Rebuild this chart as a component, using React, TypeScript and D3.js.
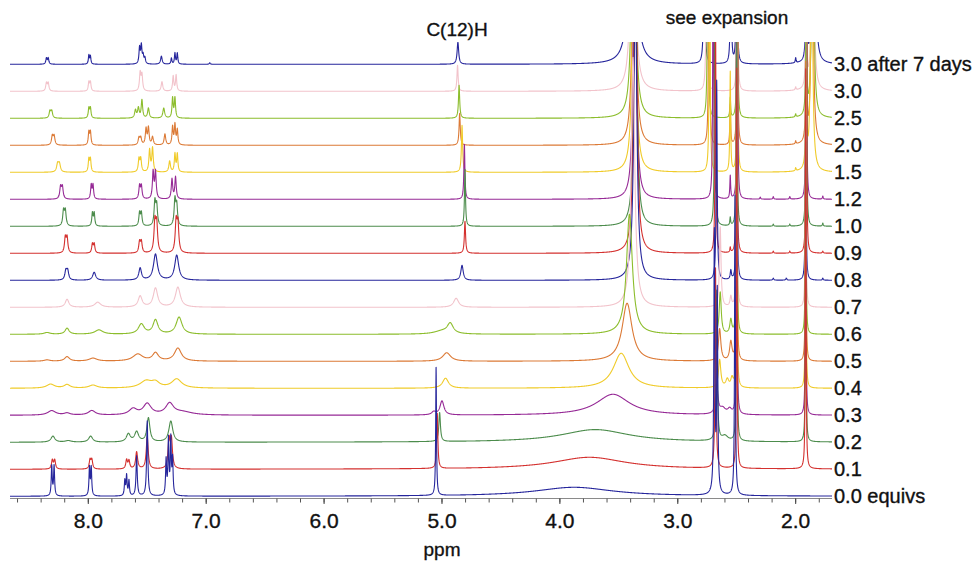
import React from "react";
import * as d3 from "d3";

const W = 979;
const H = 571;

const traceLabels = ["3.0 after 7 days", "3.0", "2.5", "2.0", "1.5", "1.2", "1.0", "0.9", "0.8", "0.7", "0.6", "0.5", "0.4", "0.3", "0.2", "0.1", "0.0 equivs"];
const traceColors = ["#26269c", "#f2c3cb", "#8cbd2c", "#dc7a36", "#f0cb2a", "#962a96", "#4c8c4c", "#d4312f", "#26269c", "#f2c3cb", "#8cbd2c", "#dc7a36", "#f0cb2a", "#962a96", "#4c8c4c", "#d4312f", "#26269c"];

const axisMajor = [8, 7, 6, 5, 4, 3, 2];
const axisMinor = [8.6, 8.4, 8.2, 8.0, 7.8, 7.6, 7.4, 7.2, 7.0, 6.8, 6.6, 6.4, 6.2, 6.0, 5.8, 5.6, 5.4, 5.2, 5.0, 4.8, 4.6, 4.4, 4.2, 4.0, 3.8, 3.6, 3.4, 3.2, 3.0, 2.8, 2.6, 2.4, 2.2, 2.0, 1.8];

// peaks: [ppm, height, half-width (ppm)]
const peaks0 = [[8.355,6,0.006],[8.34,6,0.006],[7.995,9,0.005],[7.982,8,0.005],[7.565,16,0.006],[7.55,18,0.006],[7.535,8,0.006],[7.52,6,0.006],[7.38,8,0.008],[7.295,6,0.005],[7.265,11,0.005],[7.245,11,0.005],[6.97,1.5,0.005],[4.865,22,0.008],[3.385,400,0.02],[2.775,300,0.004],[2.55,300,0.003],[2.5,400,0.003],[2.0,5,0.004],[1.91,300,0.003],[1.845,300,0.01]];
const peaks1 = [[8.355,8,0.007],[8.34,8,0.007],[7.995,9,0.006],[7.982,9,0.006],[7.56,18,0.007],[7.545,16,0.007],[7.375,9.5,0.008],[7.28,15,0.006],[7.255,16,0.006],[4.868,26,0.006],[3.38,400,0.015],[2.755,300,0.004],[2.495,400,0.003],[2.0,3,0.004],[1.91,300,0.003],[1.855,300,0.009]];
const peaks2 = [[8.325,7,0.008],[8.31,7,0.008],[7.995,10,0.006],[7.982,10,0.006],[7.6,8,0.008],[7.575,10,0.008],[7.545,18,0.007],[7.49,10,0.008],[7.36,10,0.009],[7.285,20,0.006],[7.265,20,0.006],[4.855,33,0.006],[3.375,400,0.014],[2.745,300,0.004],[2.555,20,0.004],[2.495,400,0.003],[2.0,3,0.004],[1.91,300,0.003],[1.855,300,0.009]];
const peaks3 = [[8.305,9,0.008],[8.29,9,0.008],[7.995,13,0.006],[7.982,13,0.006],[7.57,7,0.008],[7.555,7,0.008],[7.51,16,0.007],[7.49,17,0.007],[7.455,8,0.008],[7.35,11,0.008],[7.285,18,0.006],[7.265,20,0.006],[7.245,15,0.006],[4.85,32,0.006],[3.37,400,0.013],[2.735,300,0.004],[2.555,40,0.004],[2.495,400,0.003],[2.0,3,0.004],[1.91,300,0.003],[1.86,300,0.009]];
const peaks4 = [[8.26,8,0.01],[8.245,8,0.01],[7.995,13,0.006],[7.982,13,0.006],[7.57,13,0.007],[7.555,13,0.007],[7.48,22,0.007],[7.455,24,0.007],[7.31,11,0.008],[7.265,18,0.006],[7.245,18,0.006],[4.83,47,0.006],[3.37,400,0.013],[2.73,300,0.004],[2.555,100,0.004],[2.495,400,0.003],[2.0,3,0.004],[1.91,300,0.003],[1.865,300,0.009]];
const peaks5 = [[8.235,12,0.008],[8.22,12,0.008],[7.975,14,0.006],[7.96,14,0.006],[7.565,13,0.007],[7.55,13,0.007],[7.45,27,0.007],[7.43,27,0.007],[7.29,20,0.007],[7.26,22,0.007],[4.81,55,0.005],[3.365,400,0.012],[2.7,300,0.004],[2.555,23,0.004],[2.495,400,0.003],[2.3,2,0.004],[2.19,2.5,0.004],[2.05,2.5,0.004],[1.91,400,0.003],[1.77,3,0.004]];
const peaks6 = [[8.21,15,0.008],[8.195,15,0.008],[7.965,13,0.006],[7.95,13,0.006],[7.565,13,0.007],[7.55,13,0.007],[7.435,24,0.008],[7.42,20,0.008],[7.265,26,0.008],[7.25,20,0.008],[4.805,57,0.005],[3.36,400,0.012],[2.685,300,0.004],[2.555,8,0.004],[2.5,400,0.003],[2.19,2,0.004],[2.05,2,0.004],[1.91,400,0.003],[1.77,3,0.004]];
const peaks7 = [[8.195,15,0.008],[8.18,15,0.008],[7.965,9,0.007],[7.95,9,0.007],[7.565,11,0.008],[7.55,11,0.008],[7.435,30,0.009],[7.42,28,0.009],[7.255,30,0.009],[7.24,28,0.009],[4.805,32,0.006],[3.36,400,0.013],[2.68,250,0.004],[2.555,5,0.004],[2.5,400,0.003],[2.19,2,0.004],[2.05,2,0.004],[1.91,400,0.003],[1.77,2,0.004]];
const peaks8 = [[8.19,9,0.01],[8.175,9,0.01],[7.95,8,0.015],[7.56,12,0.013],[7.43,26,0.02],[7.25,25,0.02],[4.83,15,0.012],[3.36,300,0.015],[2.67,200,0.005],[2.55,9,0.006],[2.5,400,0.003],[2.19,2,0.005],[2.08,2,0.005],[1.915,300,0.003],[1.77,2,0.004]];
const peaks9 = [[8.18,8,0.018],[7.92,5,0.03],[7.56,11,0.02],[7.43,19,0.022],[7.24,20,0.025],[4.88,9,0.025],[3.38,250,0.018],[2.64,80,0.008],[2.55,10,0.008],[2.5,400,0.003],[1.915,300,0.003]];
const peaks10 = [[8.35,1.7,0.03],[8.18,6,0.02],[7.91,4.3,0.04],[7.55,10,0.03],[7.43,14,0.025],[7.23,17,0.03],[4.93,10,0.03],[5.0,3,0.08],[3.41,120,0.03],[2.64,42,0.01],[2.55,14,0.01],[2.5,400,0.003],[1.915,300,0.003]];
const peaks11 = [[8.35,1.3,0.03],[8.18,4.5,0.025],[7.96,3,0.04],[7.58,7,0.05],[7.43,8,0.03],[7.24,13,0.035],[4.96,8.5,0.04],[3.43,58,0.05],[2.645,32,0.012],[2.55,19,0.012],[2.5,400,0.003],[1.915,300,0.003]];
const peaks12 = [[8.32,4,0.04],[8.18,3.5,0.03],[7.96,3,0.04],[7.51,7,0.06],[7.43,5,0.04],[7.25,9,0.05],[4.97,10,0.03],[3.48,35,0.08],[2.645,28,0.012],[2.58,8,0.015],[2.54,9,0.012],[2.5,400,0.003],[1.915,300,0.003]];
const peaks13 = [[8.31,4.5,0.04],[8.18,2,0.03],[7.97,4.5,0.035],[7.62,6,0.04],[7.5,11,0.04],[7.31,11,0.04],[7.2,3,0.1],[5.0,14,0.02],[5.07,3,0.02],[3.55,21,0.17],[2.67,29,0.012],[2.62,6,0.03],[2.56,5,0.02],[2.5,400,0.003],[1.915,300,0.003]];
const peaks14 = [[8.3,6,0.02],[8.17,1.5,0.03],[7.98,6,0.02],[7.66,8,0.02],[7.59,10,0.02],[7.49,24,0.015],[7.3,21,0.02],[5.02,29,0.008],[3.7,12.7,0.35],[2.67,150,0.006],[2.6,5,0.03],[2.5,400,0.003],[1.915,300,0.003]];
const peaks15 = [[8.305,9,0.008],[8.285,9,0.008],[7.985,9,0.008],[7.97,9,0.008],[7.675,9,0.008],[7.655,8,0.008],[7.59,17,0.01],[7.5,32,0.01],[7.315,28,0.01],[7.295,28,0.01],[5.04,55,0.006],[3.75,12,0.37],[2.68,200,0.005],[2.5,400,0.003],[1.915,400,0.003]];
const peaks16 = [[8.31,30,0.005],[8.29,30,0.005],[7.99,28,0.005],[7.975,28,0.005],[7.69,15,0.005],[7.675,20,0.005],[7.655,15,0.005],[7.59,40,0.006],[7.5,75,0.006],[7.34,35,0.005],[7.32,55,0.005],[7.3,55,0.005],[7.285,35,0.005],[5.05,128,0.004],[3.88,9,0.4],[2.69,260,0.005],[2.665,200,0.005],[2.515,300,0.004]];

const tracePeaks = [peaks0, peaks1, peaks2, peaks3, peaks4, peaks5, peaks6, peaks7, peaks8, peaks9, peaks10, peaks11, peaks12, peaks13, peaks14, peaks15, peaks16];

const ppmDomain = [8.664, 1.692];

function spectrum(peaks: number[][]) {
  const pts: number[] = d3.range(ppmDomain[1], ppmDomain[0], 0.0015);
  peaks.forEach((p) => { if (p[0] > ppmDomain[1] && p[0] < ppmDomain[0]) pts.push(p[0]); });
  pts.push(ppmDomain[0]);
  pts.sort((a, b) => b - a);
  return pts.map((ppm) => {
    let v = 0;
    for (const [c, h, w] of peaks) v += (h * w * w) / ((ppm - c) * (ppm - c) + w * w);
    return [ppm, v] as [number, number];
  });
}

export default function App() {
  const x = d3.scaleLinear().domain(ppmDomain).range([10, 832]);
  const yBase = d3.scaleLinear().domain([0, 16]).range([64.3, 496.3]);
  const inten = d3.scaleLinear().domain([0, 1]).range([0, 1]);
  const font = "'Liberation Sans', Arial, sans-serif";
  const textStyle = { fontFamily: font, fill: "#111", stroke: "#111", strokeWidth: 0.35 };

  return (
    <svg width={W} height={H} style={{ position: "absolute", left: 0, top: 0, background: "#fff" }}>
      <defs>
        <clipPath id="plotClip">
          <rect x={0} y={42} width={W} height={H - 42} />
        </clipPath>
      </defs>
      <g clipPath="url(#plotClip)">
        {tracePeaks.map((pk, i) => {
          const base = yBase(i);
          const line = d3
            .line<[number, number]>()
            .x((d) => x(d[0]))
            .y((d) => base - inten(d[1]));
          return (
            <path key={i} d={line(spectrum(pk)) || ""} fill="none" stroke={traceColors[i]} strokeWidth={1.1} strokeLinejoin="round" />
          );
        })}
      </g>
      {traceLabels.map((t, i) => (
        <text key={t} x={834} y={yBase(i) + 7} fontSize={20} {...textStyle}>
          {t}
        </text>
      ))}
      <line x1={10} x2={832} y1={498.5} y2={498.5} stroke="#8a8a8a" strokeWidth={1} />
      {axisMinor.map((t) => (
        <line key={"m" + t} x1={x(t)} x2={x(t)} y1={498.5} y2={502.5} stroke="#555" strokeWidth={1} />
      ))}
      {axisMajor.map((t) => (
        <g key={"M" + t}>
          <line x1={x(t)} x2={x(t)} y1={498.5} y2={504} stroke="#444" strokeWidth={1} />
          <text x={x(t)} y={528} textAnchor="middle" fontSize={21} {...textStyle}>
            {d3.format(".1f")(t)}
          </text>
        </g>
      ))}
      <text x={442} y={556} textAnchor="middle" fontSize={19} {...textStyle}>ppm</text>
      <text x={457} y={36} textAnchor="middle" fontSize={19} {...textStyle}>C(12)H</text>
      <text x={727} y={24} textAnchor="middle" fontSize={19} {...textStyle}>see expansion</text>
    </svg>
  );
}
